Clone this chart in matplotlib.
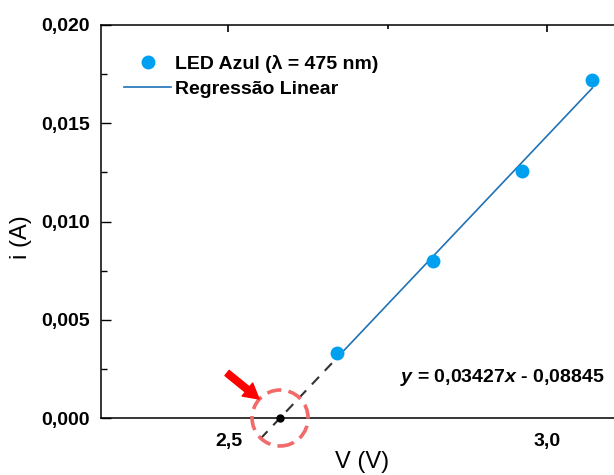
import numpy as np
import matplotlib
matplotlib.use("Agg")
import matplotlib.pyplot as plt
from matplotlib.patches import Circle, FancyArrowPatch
from matplotlib.transforms import ScaledTranslation
from matplotlib.ticker import FuncFormatter, MultipleLocator

# Dados
tensao = [2.671, 2.821, 2.961, 3.071]          # V (V)
corrente = [0.00332, 0.00801, 0.01255, 0.01719]  # i (A)
coef_a = 0.03427                                 # inclinação da regressão
coef_b = -0.08845                                # intercepto
rotulo_pontos = "LED Azul (λ = 475 nm)"
rotulo_reta = "Regressão Linear"

plt.rcParams['font.family'] = ['Liberation Sans', 'DejaVu Sans']
plt.rcParams['mathtext.fontset'] = 'custom'
plt.rcParams['mathtext.rm'] = 'Liberation Sans:bold'
plt.rcParams['mathtext.it'] = 'Liberation Sans:bold:italic'

fig = plt.figure(figsize=(6.14, 4.75), dpi=100)
ax = fig.add_axes([101/614, 57/475, 513/614, 393/475])

# reta de regressão (trecho sólido entre os pontos)
xr = np.array([tensao[0], tensao[-1]])
ax.plot(xr, coef_a*xr + coef_b, color='#1f72b5', lw=1.2, label=rotulo_reta, zorder=2)

# extensão tracejada até o eixo
x0 = -coef_b/coef_a
xe = np.array([2.55, tensao[0]])
ax.plot(xe, coef_a*xe + coef_b, color='#333333', lw=1.5, ls=(0, (5, 4)),
        clip_on=False, zorder=2)

ax.plot(tensao, corrente, 'o', color='#00a0f0', ms=10, mec='none',
        label=rotulo_pontos, zorder=3)

# ponto de interseção
ax.plot([x0], [0], 'o', color='black', ms=5, clip_on=False, zorder=4)

# círculo e seta vermelhos em torno da interseção
trans = fig.dpi_scale_trans + ScaledTranslation(x0, 0, ax.transData)
circ = Circle((0, 0), 0.28, transform=trans, fill=False, ec='#f26a6a',
              lw=2.6, ls=(0, (4, 2)), clip_on=False, zorder=5)
ax.add_patch(circ)
seta = FancyArrowPatch((-0.53, 0.45), (-0.21, 0.19), transform=trans,
                       arrowstyle='simple,head_width=1.0,head_length=0.9,tail_width=0.4',
                       mutation_scale=12, color='#ff0000', shrinkA=0, shrinkB=0,
                       clip_on=False, zorder=5)
ax.add_patch(seta)

ax.set_xlim(2.30, 3.105)
ax.set_ylim(0, 0.020)

virgula = lambda fmt: FuncFormatter(lambda v, p: (fmt % v).replace('.', ','))
ax.xaxis.set_major_locator(MultipleLocator(0.5))
ax.xaxis.set_minor_locator(MultipleLocator(0.25))
ax.yaxis.set_major_locator(MultipleLocator(0.005))
ax.yaxis.set_minor_locator(MultipleLocator(0.0025))
ax.xaxis.set_major_formatter(virgula('%.1f'))
ax.yaxis.set_major_formatter(virgula('%.3f'))

ax.tick_params(axis='y', which='both', direction='in', left=True, right=False,
               labelsize=14, pad=8)
ax.tick_params(axis='y', which='major', length=7, width=1)
ax.tick_params(axis='y', which='minor', length=4, width=1)
ax.tick_params(axis='x', which='both', direction='in', top=True, bottom=False,
               labelbottom=True, labelsize=14, pad=11)
ax.tick_params(axis='x', which='major', length=5, width=1.2)
ax.tick_params(axis='x', which='minor', length=3, width=1.2)
for lbl in ax.get_xticklabels() + ax.get_yticklabels():
    lbl.set_fontweight('bold')

ax.spines['right'].set_visible(False)
for s in ['left', 'top', 'bottom']:
    ax.spines[s].set_linewidth(1.1)

ax.set_xlabel('V (V)', fontsize=17)
ax.set_ylabel('i (A)', fontsize=17)
ax.xaxis.set_label_coords(0.509, -0.085)
ax.yaxis.set_label_coords(-0.134, 0.46)

ax.text(0.583, 0.104, '$y$ = 0,03427$x$ - 0,08845', transform=ax.transAxes,
        fontsize=14, fontweight='bold', va='center', ha='left')

h, l = ax.get_legend_handles_labels()
ax.legend(h[::-1], l[::-1], loc='upper left', bbox_to_anchor=(0.03, 0.944),
          frameon=False, prop={'weight': 'bold', 'size': 14},
          handlelength=2.4, handletextpad=0.2, labelspacing=0.38,
          borderaxespad=0)

fig.savefig('out.png', dpi=100)
